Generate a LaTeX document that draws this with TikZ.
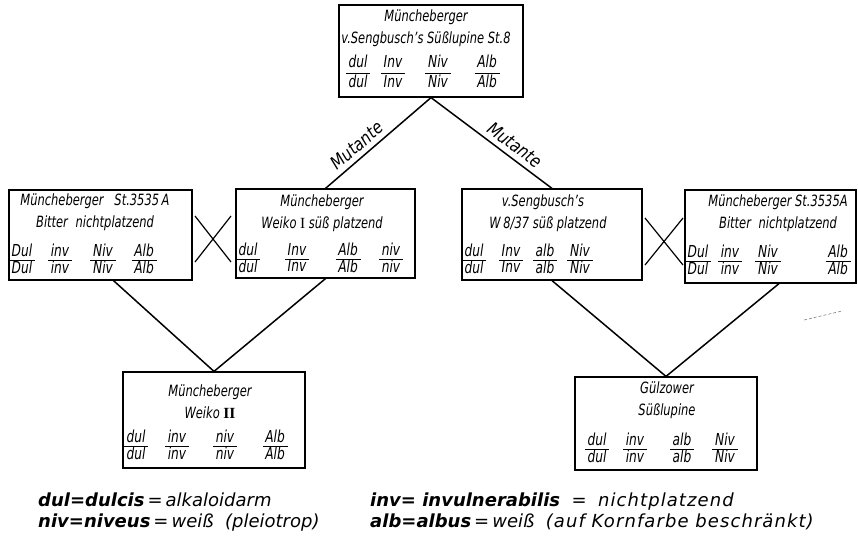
\documentclass[tikz,border=0pt]{standalone}
\usepackage{fontspec}
\setmainfont{DejaVu Sans}[FakeStretch=0.74]
\newfontfamily\labfont{DejaVu Sans}[FakeStretch=0.84]
\newfontfamily\legfont{DejaVu Sans}[FakeStretch=1.0]
\newfontfamily\legwide{DejaVu Sans}[FakeStretch=1.0, LetterSpace=6]
\newfontfamily\rnum{Liberation Serif}
\setlength\arrayrulewidth{1pt}
\renewcommand\arraystretch{0}
\newcommand\gn[2]{\begin{tabular}{@{\,}c@{\,}}\rule[-3pt]{0pt}{14pt}#1\\\hline\rule[-3pt]{0pt}{15pt}#2\end{tabular}}
\newcommand\gnw[2]{\begin{tabular}{@{\,}c@{\,}}\rule[-5pt]{0pt}{14pt}#1\\\hline\rule[-3pt]{0pt}{17pt}#2\end{tabular}}
\tikzset{
  box/.style={draw, line width=1.2pt, inner sep=0pt},
  ttl/.style={align=center, inner sep=0pt, font=\fontsize{15.5}{22}\selectfont\itshape},
  gene/.style={inner sep=0pt, font=\fontsize{16.5}{18}\selectfont\itshape},
  conn/.style={line width=1.5pt},
  lab/.style={font=\fontsize{18}{20}\selectfont\labfont\itshape, inner sep=1pt},
  leg/.style={font=\fontsize{18}{20}\selectfont\legfont\itshape, inner sep=0pt},
  cross/.style={line width=1.2pt}
}
\begin{document}
\begin{tikzpicture}[x=1pt,y=-1pt]
\useasboundingbox (0,0) rectangle (858,541);
% boxes
\node[box, minimum width=184, minimum height=92] (top) at (431,51) {};
\node[box, minimum width=183, minimum height=90] (L1) at (100.5,235) {};
\node[box, minimum width=179, minimum height=89] (L2) at (325.5,233.5) {};
\node[box, minimum width=180, minimum height=91] (R1) at (552,234.5) {};
\node[box, minimum width=171, minimum height=93] (R2) at (770.5,236.5) {};
\node[box, minimum width=182, minimum height=96] (B1) at (214,420) {};
\node[box, minimum width=182, minimum height=93] (B2) at (666,423.5) {};
% titles
\node[ttl] (top-t) at (426,28.5) {Müncheberger\\v.Sengbusch's Süßlupine St.8};
\node[ttl] (L1-t) at (95,212) {Müncheberger\hspace{0.7em}St.3535\,A\\Bitter\hspace{0.5em}nichtplatzend};
\node[ttl] (L2-t) at (322,213) {Müncheberger\\Weiko {\rnum\upshape I} süß platzend};
\node[ttl] (R1-t) at (548,213) {\hspace*{-10pt}v.Sengbusch's\\W\,8/37 süß platzend};
\node[ttl] (R2-t) at (778,213.5) {Müncheberger St.3535A\\Bitter\hspace{0.5em}nichtplatzend};
\node[ttl] (B1-t) at (210,402) {Müncheberger\\Weiko {\rnum\upshape\bfseries II}};
\node[ttl] (B2-t) at (667,400.5) {Gülzower\\Süßlupine};
% genes
\foreach \gx/\ga [count=\i] in {358/dul, 393/Inv, 438/Niv, 487/Alb}
  \node[gene] (top-g\i) at (\gx,73) {\gnw{\ga}{\ga}};
\foreach \gx/\ga [count=\i] in {22/Dul, 60/inv, 103/Niv, 144/Alb}
  \node[gene] (L1-g\i) at (\gx,260) {\gn{\ga}{\ga}};
\foreach \gx/\ga [count=\i] in {248/dul, 297/Inv, 348/Alb, 391/niv}
  \node[gene] (L2-g\i) at (\gx,259) {\gn{\ga}{\ga}};
\foreach \gx/\ga [count=\i] in {474/dul, 511/Inv, 545/alb, 580/Niv}
  \node[gene] (R1-g\i) at (\gx,260) {\gn{\ga}{\ga}};
\foreach \gx/\ga [count=\i] in {698/Dul, 730/inv, 768/Niv, 838/Alb}
  \node[gene] (R2-g\i) at (\gx,261) {\gn{\ga}{\ga}};
\foreach \gx/\ga [count=\i] in {136/dul, 177/inv, 225/niv, 275/Alb}
  \node[gene] (B1-g\i) at (\gx,446) {\gn{\ga}{\ga}};
\foreach \gx/\ga [count=\i] in {597/dul, 635/inv, 682/alb, 725/Niv}
  \node[gene] (B2-g\i) at (\gx,449) {\gn{\ga}{\ga}};
% connectors
\draw[conn] (top.south) -- node[lab, sloped, above=4pt, pos=0.63] (m1) {Mutante} (L2.north);
\draw[conn] (top.south) -- node[lab, sloped, above=4pt, pos=0.63] (m2) {Mutante} (R1.north);
\draw[conn] ([xshift=13pt]L1.south) -- (B1.north);
\draw[conn] (L2.south) -- (B1.north);
\draw[conn] (R1.south) -- (B2.north);
\draw[conn] ([xshift=8.5pt]R2.south) -- (B2.north);
% crosses
\coordinate (xa1) at (195,216); \coordinate (xa2) at (231,262);
\coordinate (xa3) at (195,262); \coordinate (xa4) at (231,216);
\draw[cross] (xa1) -- (xa2); \draw[cross] (xa3) -- (xa4);
\coordinate (xb1) at (645,218); \coordinate (xb2) at (683,265);
\coordinate (xb3) at (645,265); \coordinate (xb4) at (683,218);
\draw[cross] (xb1) -- (xb2); \draw[cross] (xb3) -- (xb4);
% faint mark
\coordinate (fm1) at (804,320); \coordinate (fm2) at (842,311);
\draw[gray, line width=0.6pt, dash pattern=on 3pt off 2pt] (fm1) -- (fm2);
% legend
\node[leg, anchor=base west] (lg1) at (38,506) {\textbf{dul=dulcis}\,=\,alkaloidarm};
\node[leg, anchor=base west] (lg2) at (38,527) {\textbf{niv=niveus}\,=\,weiß\ \ (pleiotrop)};
\node[leg, anchor=base west] (lg3) at (370,506) {\textbf{inv= invulnerabilis}\ \ =\ \ {\legwide nichtplatzend}};
\node[leg, anchor=base west] (lg4) at (370,527) {\textbf{alb=albus}\,=\,weiß\ \ {\legwide (auf Kornfarbe beschränkt)}};
\end{tikzpicture}
\end{document}
